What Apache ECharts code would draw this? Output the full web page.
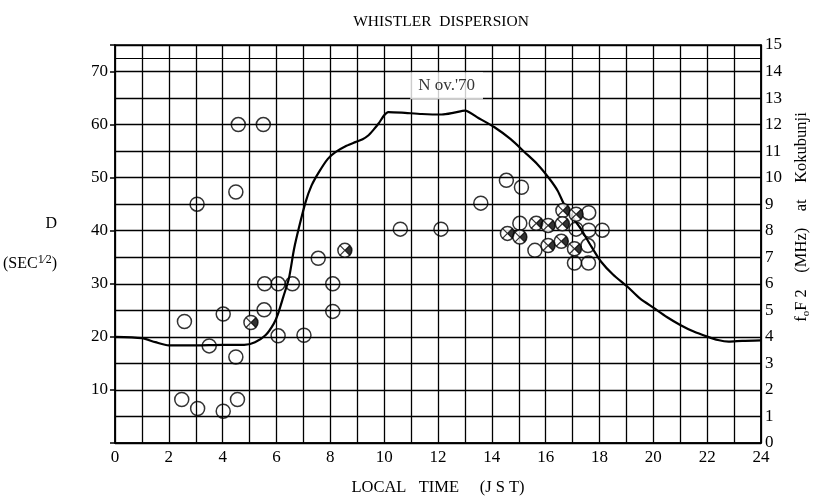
<!DOCTYPE html>
<html><head><meta charset="utf-8">
<script src="https://cdn.jsdelivr.net/npm/echarts@6/dist/echarts.min.js"></script>
<style>html,body{margin:0;padding:0;background:#fff}#c{width:814px;height:501px}</style>
</head><body><div id="c"></div>
<script>
// foF2 curve (hour JST, MHz)
const foF2Curve = [[0,4.0],[1,3.95],[1.5,3.8],[2,3.68],[3,3.68],[4,3.7],[4.8,3.7],[5.2,3.8],[5.6,4.07],[5.9,4.5],[6.05,4.85],[6.25,5.5],[6.46,6.2],[6.65,7.3],[6.83,8.1],[7.08,9.08],[7.3,9.7],[7.57,10.2],[7.9,10.7],[8.19,10.96],[8.6,11.2],[8.93,11.34],[9.2,11.45],[9.42,11.6],[9.6,11.8],[9.8,12.05],[10.0,12.35],[10.15,12.47],[10.65,12.45],[11.4,12.4],[12.14,12.38],[12.6,12.45],[13.0,12.53],[13.5,12.25],[14.1,11.9],[14.7,11.45],[15.22,10.96],[15.7,10.5],[16.14,9.96],[16.45,9.5],[16.7,8.96],[17.0,8.5],[17.3,8.08],[17.7,7.4],[18.06,6.83],[18.5,6.35],[19.04,5.89],[19.5,5.45],[20.03,5.08],[20.5,4.75],[21.0,4.45],[21.5,4.2],[22.0,4.01],[22.4,3.88],[22.8,3.82],[23.3,3.85],[24,3.87]];
// whistler dispersion, open circles (hour, D)
const openPoints = [[4.58,60],[5.51,60],[4.49,47.3],[3.05,45],[10.6,40.3],[7.55,34.8],[5.56,30],[6.06,30],[6.59,30],[8.09,30],[8.09,24.8],[5.54,25.1],[4.02,24.3],[2.58,22.9],[6.06,20.2],[7.02,20.3],[3.5,18.3],[4.49,16.2],[2.48,8.2],[3.07,6.5],[4.02,6],[4.55,8.2],[14.54,49.5],[15.1,48.2],[13.59,45.2],[12.11,40.3],[17.6,43.4],[15.04,41.4],[17.13,40.3],[17.6,40.1],[18.1,40.1],[15.6,36.3],[17.57,37.2],[17.07,33.9],[17.59,33.9]];
// crossed circles (hour, D)
const crossedPoints = [[8.54,36.3],[5.05,22.7],[16.64,43.8],[17.13,43.1],[15.65,41.4],[16.09,41.0],[16.62,41.3],[14.58,39.5],[15.04,38.8],[16.09,37.2],[16.58,38],[17.07,36.6]];
const xTickLabels = [0,2,4,6,8,10,12,14,16,18,20,22,24];
const leftTickLabels = [10,20,30,40,50,60,70];
const annotation = {text:"N ov.'70", at:[12.32,13.46]};

const SERIF = '"Liberation Serif","DejaVu Serif",serif';
const D = 14;
const chart = echarts.init(document.getElementById('c'));
chart.setOption({
  animation:false,
  title:{text:'WHISTLER  DISPERSION', left:436, textAlign:'center', top:9, textStyle:{fontFamily:SERIF, fontSize:15.5, fontWeight:'normal', color:'#000'}},
  grid:{left:112, right:53, top:45, bottom:56, show:true, borderColor:'#000', borderWidth:1.5},
  xAxis:{type:'value', min:0, max:24, interval:1,
    name:'LOCAL   TIME     (J S T)', nameLocation:'middle', nameGap:36,
    nameTextStyle:{fontFamily:SERIF, fontSize:16.5, color:'#000'},
    axisLine:{lineStyle:{color:'#000', width:1.5}}, axisTick:{show:false},
    axisLabel:{color:'#000', fontFamily:SERIF, fontSize:17, margin:6,
      formatter:v=> xTickLabels.includes(v) ? String(v) : ''},
    splitLine:{show:true, lineStyle:{color:'#000', width:1.3}}},
  yAxis:[
    {type:'value', min:0, max:75, interval:10, position:'left',
      name:'D\n\n(SEC{s|1⁄2})', nameLocation:'middle', nameRotate:0, nameGap:58,
      nameTextStyle:{fontFamily:SERIF, fontSize:16, color:'#000', lineHeight:20,
        rich:{s:{fontFamily:SERIF, fontSize:12, color:'#000', verticalAlign:'top', padding:[0,0,10,0]}}},
      axisLine:{show:true, lineStyle:{color:'#000', width:1.5}},
      axisTick:{show:true, length:5, lineStyle:{color:'#000', width:1.5}},
      axisLabel:{color:'#000', fontFamily:SERIF, fontSize:17, margin:7,
        formatter:v=> leftTickLabels.includes(v) ? String(v) : ''},
      splitLine:{show:false}},
    {type:'value', min:0, max:15, interval:1, position:'right',
      axisLine:{show:true, lineStyle:{color:'#000', width:1.5}},
      axisTick:{show:false},
      axisLabel:{color:'#000', fontFamily:SERIF, fontSize:17, margin:4},
      splitLine:{show:true, lineStyle:{color:'#000', width:1.3}}}
  ],
  graphic:[{type:'text', x:802, y:217, rotation:Math.PI/2,
    style:{text:'{a|f}{b|o}{a|F 2    (MHz)    at    Kokubunji}', align:'center', verticalAlign:'middle',
      rich:{a:{fontFamily:SERIF, fontSize:16.5, fill:'#000'}, b:{fontFamily:SERIF, fontSize:11, fill:'#000', padding:[8,0,0,0]}}}}],
  series:[
    {type:'line', yAxisIndex:1, data:foF2Curve, showSymbol:false, smooth:0.25,
      lineStyle:{color:'#000', width:2.2}, z:3,
      markLine:{silent:true, symbol:'none', label:{show:false}, lineStyle:{color:'#000', width:1.2, type:'solid'}, data:[{yAxis:14.5}]}},
    {type:'scatter', yAxisIndex:1, data:[annotation.at], symbolSize:0, z:4,
      label:{show:true, position:'inside', formatter:annotation.text, fontFamily:SERIF, fontSize:17, color:'#000', backgroundColor:'#fff', padding:[5,8]}},
    {type:'scatter', yAxisIndex:0, data:openPoints, symbol:'circle', symbolSize:D, z:5,
      itemStyle:{color:'rgba(255,255,255,0)', borderColor:'#000', borderWidth:1.5}},
    {type:'scatter', yAxisIndex:0, data:crossedPoints, symbol:'circle', symbolSize:D, z:5,
      itemStyle:{color:'#fff', borderColor:'#000', borderWidth:1.5}},
    {type:'scatter', yAxisIndex:0, data:crossedPoints, symbol:'path://M0,0 L10,10 M10,0 L0,10', symbolSize:D*0.707, z:6,
      itemStyle:{color:'#000', borderColor:'#000', borderWidth:1.2}},
    {type:'scatter', yAxisIndex:0, data:crossedPoints, symbol:'path://M0,7.07 L7.07,0 A10,10 0 0 1 7.07,14.14 Z', symbolSize:[D/2, D*0.707], symbolOffset:[D/4,0], z:6,
      itemStyle:{color:'#000'}}
  ]
});
</script></body></html>
